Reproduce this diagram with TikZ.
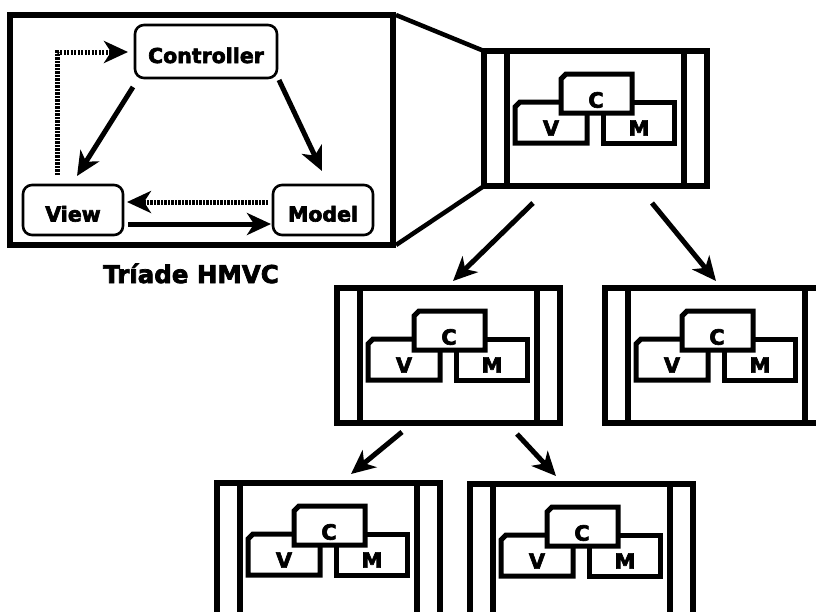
\documentclass[tikz,border=0pt]{standalone}
\usepackage{fontspec}
\setmainfont{DejaVu Sans}[BoldFeatures={FakeBold=3}]
\usetikzlibrary{arrows.meta,calc}
\tikzset{
  frame/.style={draw, line width=5.5pt},
  rbox/.style={draw, line width=2.6pt, rounded corners=9pt, inner sep=0pt,
    font=\fontsize{20.5}{20}\selectfont\bfseries, text height=23pt, text depth=0pt},
  arr/.style={line width=5pt, -{Stealth[length=24pt,width=22pt,inset=7pt]}},
  darr/.style={arr, dash pattern=on 2.3pt off 1.2pt},
  conn/.style={line width=4.5pt},
  part/.style={draw, line width=5pt, fill=white},
  cvm/.style={font=\fontsize{21}{21}\selectfont\bfseries, inner sep=0pt},
  title/.style={font=\fontsize{24.5}{24}\selectfont\bfseries, inner sep=0pt},
  hmvc/.pic={
    \coordinate (-nw) at (0,0);
    \coordinate (-sw) at (0,135);
    \draw[frame] (0,0) rectangle (223,135);
    \draw[frame] (23,0) -- (23,135);
    \draw[frame] (200,0) -- (200,135);
    \draw[part] (31,92) -- (31,56) -- (36,51) -- (103,51) -- (103,92) -- cycle;
    \draw[part] (119,92) -- (119,51) -- (190,51) -- (190,92) -- cycle;
    \draw[part] (77,62) -- (77,28) -- (82,23) -- (148,23) -- (148,62) -- cycle;
    \node[cvm] (-c) at (112,49) {C};
    \node[cvm] (-v) at (67,77) {V};
    \node[cvm] (-m) at (155,77) {M};
  }
}
\begin{document}
\begin{tikzpicture}[x=1pt,y=-1pt]
\useasboundingbox (0,0) rectangle (816,611);
\clip (0,0) rectangle (816,611);
\fill[white] (0,0) rectangle (816,611);

% Triad panel
\node[frame, inner sep=0pt, outer sep=0pt, minimum width=383pt, minimum height=230pt, anchor=north west] (triad) at (10,15) {};
\node[rbox, minimum width=142pt, minimum height=53pt] (ctrl) at (206,51.5) {Controller};
\node[rbox, minimum width=100pt, minimum height=50pt] (view) at (73,210) {View};
\node[rbox, minimum width=100pt, minimum height=50pt] (model) at (323,210) {Model};

\coordinate (cv1) at (133,87);  \coordinate (cv2) at (77,176);
\coordinate (cm1) at (279,80);  \coordinate (cm2) at (322,171);
\coordinate (mv1) at (268,202); \coordinate (mv2) at (127,202);
\coordinate (vm1) at (128,224); \coordinate (vm2) at (271,224);
\coordinate (vc1) at (57,175);  \coordinate (vc2) at (128,52);
\draw[arr] (cv1) -- (cv2);
\draw[arr] (cm1) -- (cm2);
\draw[darr] (mv1) -- (mv2);
\draw[arr] (vm1) -- (vm2);
\draw[darr] (vc1) |- (vc2);

\node[title, anchor=base] (cap) at (191,283) {Tríade HMVC};

% HMVC boxes
\pic (top) at (484,51) {hmvc};
\pic (ml) at (337,288) {hmvc};
\pic (mr) at (605,288) {hmvc};
\pic (bl) at (217,483) {hmvc};
\pic (br) at (470,484) {hmvc};

% zoom connectors
\draw[conn] (triad.north east) ++(3,0) coordinate (z1) -- (top-nw);
\draw[conn] (triad.south east) ++(3,0) coordinate (z2) -- (top-sw);

% hierarchy arrows
\coordinate (a1) at (533,203); \coordinate (a2) at (453,281);
\coordinate (b1) at (652,203); \coordinate (b2) at (716,281);
\coordinate (c1) at (402,432); \coordinate (c2) at (351,474);
\coordinate (d1) at (517,434); \coordinate (d2) at (556,476);
\draw[arr] (a1) -- (a2);
\draw[arr] (b1) -- (b2);
\draw[arr] (c1) -- (c2);
\draw[arr] (d1) -- (d2);
\end{tikzpicture}
\end{document}
